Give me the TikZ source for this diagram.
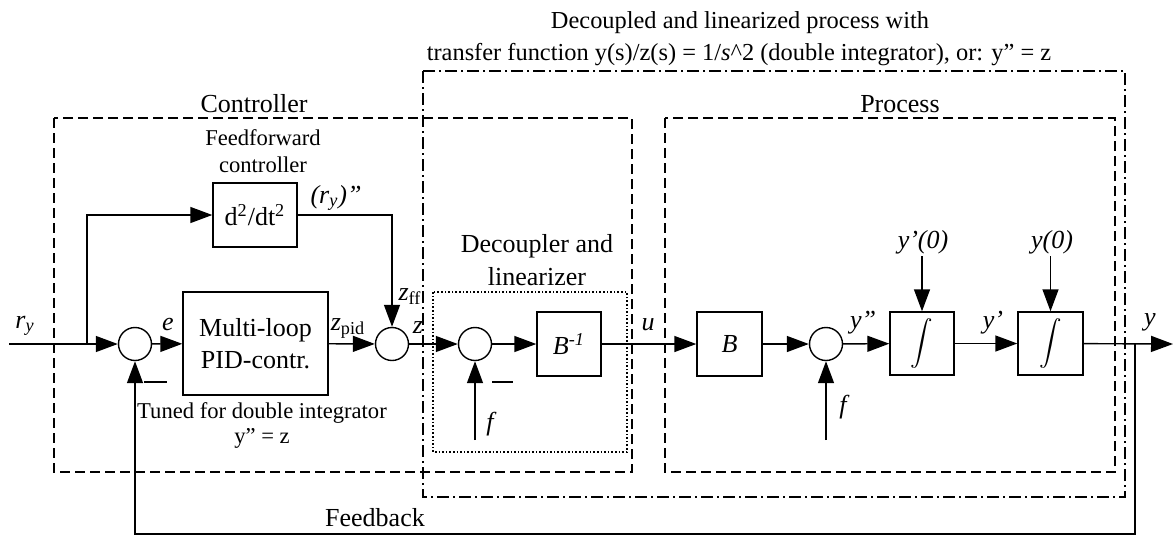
\documentclass[tikz,border=0pt]{standalone}
\usepackage{fontspec}
\setmainfont{Liberation Serif}
\usetikzlibrary{arrows.meta}
\begin{document}
\begin{tikzpicture}[x=0.5pt,y=-0.5pt,
  line width=0.7pt,
  arr/.style={-{Triangle[length=11pt,width=8pt]}},
  blk/.style={draw,line width=0.7pt,inner sep=0pt,font=\fontsize{13}{15}\selectfont},
  sumc/.style={draw,circle,minimum size=16.5pt,inner sep=0pt,line width=0.7pt},
  dashbox/.style={draw,dash pattern=on 5pt off 2.5pt,line width=0.7pt},
  dotbox/.style={draw,dash pattern=on 0.8pt off 1pt,line width=0.7pt},
  dashdotbox/.style={draw,dash pattern=on 6pt off 2pt on 1pt off 2pt,line width=0.6pt},
  big/.style={inner sep=0pt,anchor=base,font=\fontsize{13}{15}\selectfont},
  ttl/.style={inner sep=0pt,anchor=base,font=\fontsize{12.2}{14}\selectfont},
  sml/.style={inner sep=0pt,anchor=base,font=\fontsize{11.3}{13}\selectfont},
  lbl/.style={inner sep=0pt,anchor=base,font=\fontsize{13}{15}\selectfont\itshape}
]
\useasboundingbox (0,0) rectangle (1173,536);

% regions
\draw[dashdotbox] (423,71) rectangle (1125,497);
\draw[dashbox] (54,118) rectangle (632,472);
\draw[dashbox] (665,118) rectangle (1115,472);
\draw[dotbox] (433,292) rectangle (627,452);

% titles
\node[ttl] (t1) at (740,28) {Decoupled and linearized process with};
\node[ttl] (t2) at (739,60) {transfer function y(s)/z(s) = 1/\textit{s}\textasciicircum2 (double integrator), or: y” = z};
\node[big] (tc) at (254,112) {Controller};
\node[big] (tp) at (900,112) {Process};
\node[sml] (tff1) at (263,145) {Feedforward};
\node[sml] (tff2) at (263,172) {controller};
\node[big] (tdl1) at (537,252) {Decoupler and};
\node[big] (tdl2) at (537,285) {linearizer};
\node[sml] (ttu1) at (262,418) {Tuned for double integrator};
\node[sml] (ttu2) at (262,443) {y” = z};
\node[big] (tfb) at (375,526) {Feedback};

% blocks
\node[blk,minimum width=42pt,minimum height=32pt] (d2) at (255,215) {d\textsuperscript{2}/dt\textsuperscript{2}};
\node[blk,minimum width=72.5pt,minimum height=51.5pt,align=center] (pid) at (255.5,343.5) {Multi-loop\\[1pt]PID-contr.};
\node[blk,minimum width=32pt,minimum height=32pt] (binv) at (569,344) {\textit{B}\textsuperscript{\textit{-1}}};
\node[blk,minimum width=32.5pt,minimum height=32pt] (b) at (729.5,344) {\textit{B}};
\node[blk,minimum width=32pt,minimum height=31.5pt] (int1) at (922,343.5) {\resizebox*{!}{25pt}{$\displaystyle\int$}};
\node[blk,minimum width=32.5pt,minimum height=31.5pt] (int2) at (1050.5,343.5) {\resizebox*{!}{25pt}{$\displaystyle\int$}};

% summing junctions
\node[sumc] (s1) at (135,344) {};
\node[sumc] (s2) at (392,344) {};
\node[sumc] (s3) at (475,344) {};
\node[sumc] (s4) at (826,344) {};

% free ends
\coordinate (in) at (9,344);
\coordinate (br) at (87,344);
\coordinate (f1) at (475,440);
\coordinate (f2) at (826,440);
\coordinate (yp0) at (922,256);
\coordinate (y0) at (1050.5,256);
\coordinate (out) at (1173,344);
\coordinate (fb) at (1135,344);
\coordinate (fbb) at (1135,534);

% connectors
\draw[arr] (in) -- (s1);
\draw[arr] (br) |- (d2);
\draw[arr] (d2.east) -| (s2.north);
\draw[arr] (s1) -- (pid);
\draw[arr] (pid) -- (s2);
\draw[arr] (s2) -- (s3);
\draw[arr] (s3) -- (binv);
\draw[arr] (binv) -- (b);
\draw[arr] (b) -- (s4);
\draw[arr] (s4) -- (int1);
\draw[arr] (int1) -- (int2);
\draw[arr] (int2) -- (out);
\draw[arr] (f1) -- (s3.south);
\draw[arr] (f2) -- (s4.south);
\draw[arr] (yp0) -- (int1.north);
\draw[arr] (y0) -- (int2.north);
\draw[arr] (fb) -- (fbb) -| (s1.south);

% minus signs
\draw (144,382) -- (167,382);
\draw (492,382) -- (513,382);

% signal labels
\node[lbl] (lry) at (25,328) {r\textsubscript{y}};
\node[lbl] (le) at (168,330) {e};
\node[lbl] (lryy) at (336,203) {(r\textsubscript{y})”};
\node[lbl] (lzpid) at (348,330) {z\textsubscript{\upshape pid}};
\node[lbl] (lzff) at (410,300) {z\textsubscript{\upshape ff}};
\node[lbl] (lz) at (418,333) {z};
\node[lbl] (lf1) at (490,430) {f};
\node[lbl] (lu) at (648,330) {u};
\node[lbl] (lf2) at (843,413) {f};
\node[lbl] (lypp) at (863,328) {y”};
\node[lbl] (lyp0) at (923,248) {y’(0)};
\node[lbl] (lyp) at (993,328) {y’};
\node[lbl] (ly0) at (1052,248) {y(0)};
\node[lbl] (ly) at (1150,325) {y};
\end{tikzpicture}
\end{document}
